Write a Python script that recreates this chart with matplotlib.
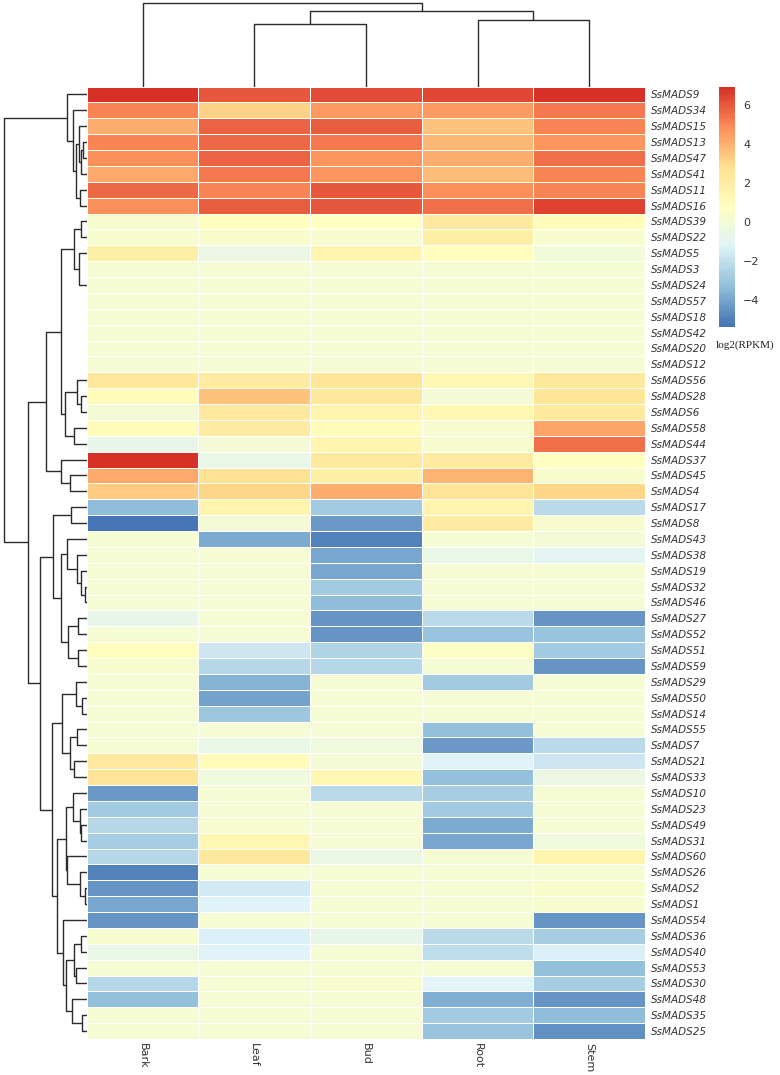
import numpy as np
import matplotlib
matplotlib.use("Agg")
import matplotlib.pyplot as plt
from matplotlib.colors import LinearSegmentedColormap, Normalize
from matplotlib.colorbar import ColorbarBase

# ---- data (log2 RPKM), rows in displayed order ----
genes = ['SsMADS9', 'SsMADS34', 'SsMADS15', 'SsMADS13', 'SsMADS47', 'SsMADS41', 'SsMADS11', 'SsMADS16',
         'SsMADS39', 'SsMADS22', 'SsMADS5', 'SsMADS3', 'SsMADS24', 'SsMADS57', 'SsMADS18', 'SsMADS42',
         'SsMADS20', 'SsMADS12', 'SsMADS56', 'SsMADS28', 'SsMADS6', 'SsMADS58', 'SsMADS44', 'SsMADS37',
         'SsMADS45', 'SsMADS4', 'SsMADS17', 'SsMADS8', 'SsMADS43', 'SsMADS38', 'SsMADS19', 'SsMADS32',
         'SsMADS46', 'SsMADS27', 'SsMADS52', 'SsMADS51', 'SsMADS59', 'SsMADS29', 'SsMADS50', 'SsMADS14',
         'SsMADS55', 'SsMADS7', 'SsMADS21', 'SsMADS33', 'SsMADS10', 'SsMADS23', 'SsMADS49', 'SsMADS31',
         'SsMADS60', 'SsMADS26', 'SsMADS2', 'SsMADS1', 'SsMADS54', 'SsMADS36', 'SsMADS40', 'SsMADS53',
         'SsMADS30', 'SsMADS48', 'SsMADS35', 'SsMADS25']
tissues = ['Bark', 'Leaf', 'Bud', 'Root', 'Stem']

bark = [6.8, 5.0, 4.0, 5.0, 4.8, 4.1, 5.6, 4.8, 0.2, 0.2, 1.8, 0.1, 0.1, 0.1, 0.1, 0.1, 0.1, 0.1, 2.3, 1.0,
        0.0, 1.0, -0.8, 6.8, 4.2, 3.3, -3.3, -5.38, 0.1, 0.1, 0.1, 0.1, 0.1, -0.8, 0.1, 0.8, 0.2, 0.1, 0.1, 0.1,
        0.1, 0.1, 2.2, 2.5, -4.3, -2.8, -2.4, -2.7, -2.4, -5.0, -4.4, -4.0, -4.5, 0.2, -0.6, 0.1, -2.4, -3.2, 0.1, 0.1]
leaf = [6.0, 3.2, 5.8, 5.6, 5.8, 5.2, 5.0, 5.9, 0.8, 0.3, -0.5, 0.1, 0.1, 0.1, 0.1, 0.1, 0.1, 0.1, 2.0, 3.5,
        2.2, 2.0, 0.0, -0.6, 2.7, 3.0, 1.4, 0.0, -3.9, 0.1, 0.1, 0.1, 0.1, 0.1, 0.1, -1.7, -2.4, -3.6, -4.1, -3.0,
        0.1, -0.6, 1.0, -0.3, 0.1, 0.1, 0.2, 1.3, 2.3, 0.1, -1.6, -1.2, 0.1, -1.4, -1.2, 0.1, 0.1, 0.1, 0.1, 0.1]
bud = [6.2, 4.5, 5.9, 5.2, 4.6, 4.6, 6.0, 6.0, 0.7, 0.2, 1.4, 0.1, 0.1, 0.1, 0.1, 0.1, 0.1, 0.1, 2.4, 2.3,
       1.5, 1.0, 1.4, 2.2, 1.8, 4.0, -2.9, -4.3, -5.0, -4.0, -4.0, -2.8, -3.3, -4.4, -4.5, -2.5, -2.4, 0.1, 0.1, 0.1,
       0.1, -0.3, 0.0, 1.2, -2.2, 0.1, 0.1, 0.1, -0.5, 0.1, 0.1, 0.1, 0.1, -0.8, 0.1, 0.1, 0.3, 0.1, 0.1, 0.1]
root = [6.4, 4.5, 3.5, 3.8, 4.0, 3.7, 4.8, 5.5, 2.2, 1.8, 0.8, 0.1, 0.1, 0.1, 0.1, 0.1, 0.1, 0.1, 1.2, 0.0,
        1.2, 0.2, 0.2, 2.0, 3.9, 2.5, 1.5, 2.0, 0.1, -0.6, 0.1, 0.1, 0.1, -2.3, -3.1, 0.6, 0.1, -2.8, 0.1, 0.1,
        -3.2, -4.3, -1.3, -3.2, -2.7, -2.8, -3.9, -4.0, 0.1, 0.1, 0.1, 0.1, 0.1, -2.3, -2.1, 0.1, -1.1, -3.7, -2.8, -3.1]
stem = [6.92, 5.3, 5.0, 4.6, 5.5, 5.0, 5.0, 6.5, 1.0, 0.2, -0.2, 0.1, 0.1, 0.1, 0.1, 0.1, 0.1, 0.1, 2.3, 2.4,
        2.2, 4.3, 5.5, 0.7, 0.4, 3.0, -2.2, 0.2, 0.0, -1.0, 0.1, 0.1, 0.1, -4.5, -3.1, -2.8, -4.5, 0.1, 0.1, 0.1,
        0.1, -2.3, -1.8, -0.5, 0.1, 0.1, 0.1, -0.3, 1.5, 0.1, 0.3, 0.2, -4.5, -2.7, -1.4, -3.2, -2.7, -4.5, -3.3, -4.6]

# row clustering: (node, left, right, merge height); ints are 1-based row positions
row_tree = [
    ('a1', 4, 5, 3.5), ('a2', 'a1', 6, 5.5), ('a3', 3, 'a2', 7.5), ('a4', 7, 8, 6.7),
    ('a5', 'a3', 'a4', 11.0), ('a6', 2, 'a5', 13.3), ('top', 1, 'a6', 19.3),
    ('z1', 17, 18, 0.0), ('z2', 16, 'z1', 0.0), ('z3', 15, 'z2', 0.0), ('z4', 14, 'z3', 0.0),
    ('z5', 13, 'z4', 0.0), ('z6', 12, 'z5', 0.0),
    ('b1', 11, 'z6', 7.7), ('b2', 9, 10, 5.3), ('b3', 'b2', 'b1', 13.0),
    ('c1', 20, 21, 6.0), ('c2', 19, 'c1', 10.0), ('c3', 22, 23, 12.7), ('c4', 'c2', 'c3', 21.7),
    ('n1', 'b3', 'c4', 25.3),
    ('d1', 25, 26, 16.7), ('d2', 24, 'd1', 26.0),
    ('r1', 'n1', 'd2', 40.3),
    ('e1', 27, 28, 15.3),
    ('q1', 32, 33, 2.0), ('q2', 31, 'q1', 5.3), ('q3', 30, 'q2', 9.3), ('q4', 29, 'q3', 19.3),
    ('t1', 34, 35, 8.7), ('t2', 36, 37, 8.7), ('t3', 't1', 't2', 18.7),
    ('s1', 'q4', 't3', 26.0), ('r2a', 'e1', 's1', 33.3),
    ('v1', 39, 40, 4.3), ('v2', 38, 'v1', 11.0), ('v3', 41, 42, 10.0), ('v4', 43, 44, 12.7),
    ('v5', 'v3', 'v4', 16.7), ('v6', 'v2', 'v5', 24.3),
    ('w1', 47, 48, 5.3), ('w2', 46, 'w1', 6.7), ('w3', 45, 'w2', 13.3),
    ('w4', 51, 52, 2.0), ('w5', 50, 'w4', 6.7), ('w6', 49, 'w5', 19.3), ('w7', 'w3', 'w6', 21.0),
    ('x1', 54, 55, 6.0), ('x2', 56, 57, 11.0), ('x3', 'x1', 'x2', 12.7), ('x4', 59, 60, 4.3),
    ('x5', 58, 'x4', 14.3), ('x6', 'x3', 'x5', 21.0), ('x7', 53, 'x6', 23.3),
    ('w8', 'w7', 'x7', 29.3), ('r2b', 'v6', 'w8', 35.0),
    ('r2', 'r2a', 'r2b', 46.7), ('r', 'r1', 'r2', 58.3), ('root', 'top', 'r', 83.0),
]
col_tree = [('lb', 2, 3, 62.7), ('rs', 4, 5, 66.0), ('lbrs', 'lb', 'rs', 75.3), ('croot', 1, 'lbrs', 83.7)]

mat = np.array([bark, leaf, bud, root, stem]).T
vmin, vmax = mat.min(), mat.max()

cols7 = ['#4575B4', '#91BFDB', '#E0F3F8', '#FFFFBF', '#FEE090', '#FC8D59', '#D73027']
cmap = LinearSegmentedColormap.from_list('rdylbu', cols7, N=100)
norm = Normalize(vmin=vmin, vmax=vmax)


def dendro_segments(tree):
    pos, hgt, segs = {}, {}, []
    def get(k):
        if isinstance(k, str):
            return pos[k], hgt[k]
        return k - 0.5, 0.0
    for name, l, r, h in tree:
        pl, hl = get(l)
        pr, hr = get(r)
        if h > 0:
            segs.append(([pl, pl, pr, pr], [hl, h, h, hr]))
        pos[name] = (pl + pr) / 2
        hgt[name] = h
    return segs, hgt[tree[-1][0]]


W, H = 780, 1075
fig = plt.figure(figsize=(W / 100, H / 100), dpi=100)

hx0, hx1, hy0, hy1 = 86.7, 645, 86.5, 1039
ax = fig.add_axes([hx0 / W, 1 - hy1 / H, (hx1 - hx0) / W, (hy1 - hy0) / H])
ax.pcolormesh(mat, cmap=cmap, norm=norm, edgecolors='white', linewidth=0.7)
ax.set_xlim(0, 5)
ax.set_ylim(60, 0)
for s in ax.spines.values():
    s.set_visible(False)
ax.yaxis.tick_right()
ax.set_yticks(np.arange(60) + 0.5)
ax.set_yticklabels(genes, fontstyle='italic', fontsize=7.5, color='#333333',
                   family=['Liberation Sans Narrow', 'DejaVu Sans'])
ax.set_xticks(np.arange(5) + 0.5)
ax.set_xticklabels(tissues, rotation=-90, fontsize=8, color='#333333',
                   family=['Liberation Sans Narrow', 'DejaVu Sans'])
ax.tick_params(axis='y', length=0, pad=4)
ax.tick_params(axis='x', length=0, pad=3)

# row dendrogram
axr = fig.add_axes([0, 1 - hy1 / H, hx0 / W, (hy1 - hy0) / H])
segs, top_h = dendro_segments(row_tree)
for xs, ys in segs:
    axr.plot(ys, xs, color='#2b2b2b', lw=1.0, solid_capstyle='butt')
axr.set_ylim(60, 0)
axr.set_xlim(top_h * 1.045, 0)
axr.axis('off')

# column dendrogram
axc = fig.add_axes([hx0 / W, 1 - hy0 / H, (hx1 - hx0) / W, hy0 / H])
segs, top_c = dendro_segments(col_tree)
for xs, ys in segs:
    axc.plot(xs, ys, color='#2b2b2b', lw=1.0, solid_capstyle='butt')
axc.set_xlim(0, 5)
axc.set_ylim(0, top_c * 1.033)
axc.axis('off')

# colour legend
cax = fig.add_axes([719 / W, 1 - 326.7 / H, 16 / W, 240 / H])
cb = ColorbarBase(cax, cmap=cmap, norm=norm, ticks=[-4, -2, 0, 2, 4, 6])
cb.outline.set_visible(False)
cax.tick_params(length=0, labelsize=8, pad=6, labelcolor='#333333')
fig.text(716 / W, 1 - 345 / H, 'log2(RPKM)', fontsize=8, ha='left', va='center',
         family=['Liberation Serif', 'DejaVu Serif'], color='#222222')

fig.savefig('out.png', dpi=100)
